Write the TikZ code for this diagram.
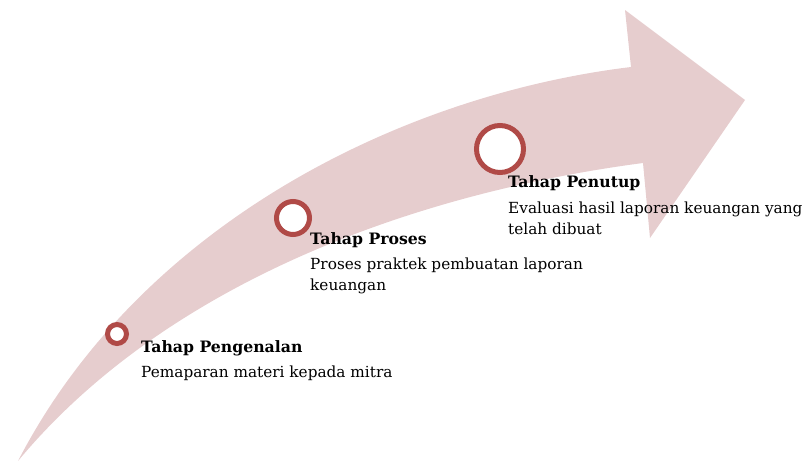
\documentclass[tikz,border=0pt]{standalone}
\usepackage{fontspec}
\setmainfont{DejaVu Serif}
\begin{document}
\begin{tikzpicture}[x=1pt,y=-1pt,
  ring/.style={circle,draw=ringred,fill=white,line width=5pt,inner sep=0pt},
  title/.style={anchor=base west,inner sep=0pt,font=\fontsize{15.7}{21}\selectfont\bfseries},
  body/.style={anchor=base west,inner sep=0pt,font=\fontsize{15.3}{21}\selectfont}]
\definecolor{band}{HTML}{E6CDCE}
\definecolor{ringred}{HTML}{B04A47}
\useasboundingbox (0,0) rectangle (807,461);
% arrow
\fill[band] (18,461) .. controls (140,225) and (400,95) .. (631,67)
  -- (625,10) -- (745,100) -- (650,238) -- (643,163)
  .. controls (400,195) and (160,290) .. (18,461) -- cycle;
% rings
\node[ring,minimum size=19pt] (c1) at (117,334) {};
\node[ring,minimum size=33pt] (c2) at (293,218) {};
\node[ring,minimum size=47pt] (c3) at (500,149) {};
% texts
\node[title] (t1) at (141,352) {Tahap Pengenalan};
\node[body] (b1) at (141,377) {Pemaparan materi kepada mitra};
\node[title] (t2) at (310,244) {Tahap Proses};
\node[body] (b2a) at (310,269) {Proses praktek pembuatan laporan};
\node[body] (b2b) at (310,290) {keuangan};
\node[title] (t3) at (508,187) {Tahap Penutup};
\node[body] (b3a) at (508,213) {Evaluasi hasil laporan keuangan yang};
\node[body] (b3b) at (508,234) {telah dibuat};
\end{tikzpicture}
\end{document}
